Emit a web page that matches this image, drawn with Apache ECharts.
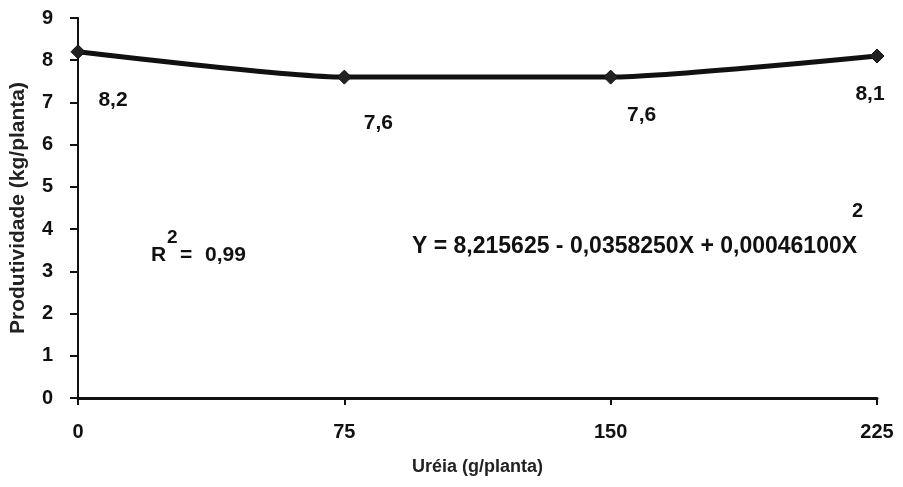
<!DOCTYPE html>
<html><head><meta charset="utf-8">
<script src="https://cdn.jsdelivr.net/npm/echarts@6/dist/echarts.min.js"></script>
<style>html,body{margin:0;padding:0;background:#fff}#c{width:903px;height:487px}</style>
</head><body><div id="c"></div>
<script>
const ureia = [0, 75, 150, 225];
const produtividade = [8.2, 7.6, 7.6, 8.1];
const pointLabels = ['8,2', '7,6', '7,6', '8,1'];
const xTicks = [0, 75, 150, 225];
const yTicks = [0, 1, 2, 3, 4, 5, 6, 7, 8, 9];
const xTitle = 'Uréia (g/planta)';
const yTitle = 'Produtividade (kg/planta)';
const r2Value = '0,99';
const eqText = 'Y = 8,215625 - 0,0358250X + 0,00046100X';

const labelOffsets = [[35, 48], [34, 46], [31, 38], [-7, 38]];
const FONT = 'Liberation Sans, Arial, sans-serif';
const chart = echarts.init(document.getElementById('c'), null, {renderer: 'canvas'});
chart.setOption({
  backgroundColor: '#fff',
  animation: false,
  grid: {left: 76, right: 26, top: 18, bottom: 89, containLabel: false},
  xAxis: {
    type: 'value', min: xTicks[0], max: xTicks[xTicks.length - 1], interval: 75,
    name: xTitle, nameLocation: 'middle', nameGap: 60,
    nameTextStyle: {fontFamily: FONT, fontWeight: 'bold', fontSize: 18, color: '#222'},
    axisLine: {lineStyle: {color: '#111', width: 3}},
    axisTick: {show: true, length: 7, lineStyle: {color: '#111', width: 2}},
    axisLabel: {margin: 24, fontFamily: FONT, fontWeight: 'bold', fontSize: 20, color: '#111'},
    splitLine: {show: false}
  },
  yAxis: {
    type: 'value', min: yTicks[0], max: yTicks[yTicks.length - 1], interval: 1,
    name: yTitle, nameLocation: 'middle', nameGap: 49,
    nameTextStyle: {fontFamily: FONT, fontWeight: 'bold', fontSize: 21, color: '#222'},
    axisLine: {show: true, lineStyle: {color: '#111', width: 2}},
    axisTick: {show: true, length: 8, lineStyle: {color: '#111', width: 2}},
    axisLabel: {margin: 25, fontFamily: FONT, fontWeight: 'bold', fontSize: 20, color: '#111'},
    splitLine: {show: false}
  },
  series: [{
    type: 'line',
    smooth: 0.2,
    data: ureia.map((x, i) => ({
      value: [x, produtividade[i]],
      label: {show: true, position: 'inside', offset: labelOffsets[i], formatter: pointLabels[i]}
    })),
    symbol: 'diamond', symbolSize: 14,
    lineStyle: {color: '#111', width: 5},
    itemStyle: {color: '#222', borderColor: '#111', borderWidth: 1},
    label: {fontFamily: FONT, fontWeight: 'bold', fontSize: 21, color: '#111'},
    z: 3
  }],
  graphic: [
    {type: 'text', left: 151, top: 245, style: {text: 'R', font: 'bold 21px ' + FONT, fill: '#111'}},
    {type: 'text', left: 167, top: 228, style: {text: '2', font: 'bold 19px ' + FONT, fill: '#111'}},
    {type: 'text', left: 180, top: 245, style: {text: '=', font: 'bold 21px ' + FONT, fill: '#111'}},
    {type: 'text', left: 205, top: 245, style: {text: r2Value, font: 'bold 21px ' + FONT, fill: '#111'}},
    {type: 'text', left: 412, top: 235, style: {text: eqText, font: 'bold 23px ' + FONT, fill: '#111'}},
    {type: 'text', left: 852, top: 201, style: {text: '2', font: 'bold 20px ' + FONT, fill: '#111'}}
  ]
});
</script></body></html>
